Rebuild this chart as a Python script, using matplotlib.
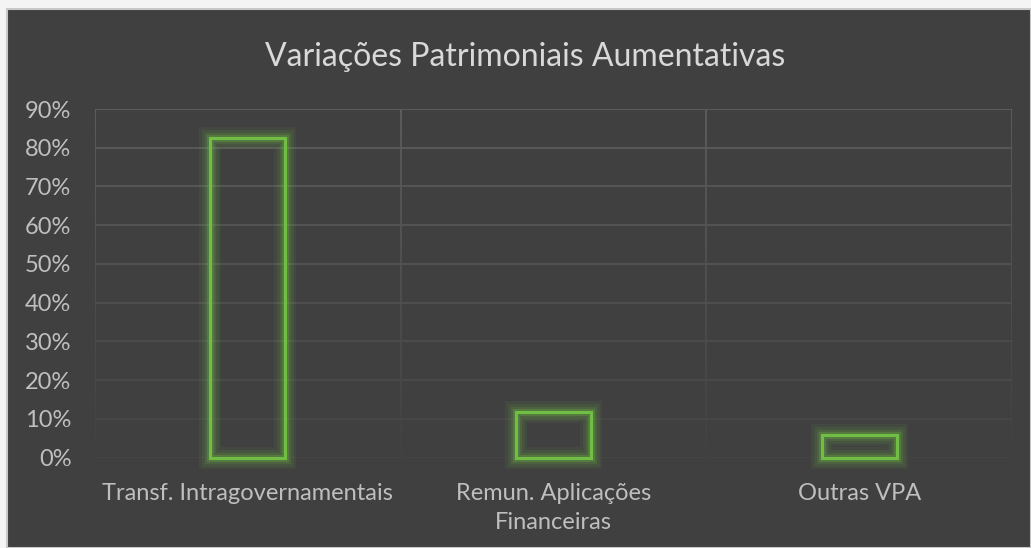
import matplotlib
matplotlib.use("Agg")
import matplotlib.pyplot as plt
import matplotlib.patheffects as pe
from matplotlib.patches import Rectangle
from matplotlib.collections import LineCollection
import numpy as np

categories = ["Transf. Intragovernamentais", "Remun. Aplicações\nFinanceiras", "Outras VPA"]
values = [0.826, 0.118, 0.058]
yticks = [0.0, 0.1, 0.2, 0.3, 0.4, 0.5, 0.6, 0.7, 0.8, 0.9]
title = "Variações Patrimoniais Aumentativas"

BG = "#404040"
GREEN = "#70bf44"
TXT = "#bfbfbf"
plt.rcParams["font.family"] = ["Lato", "DejaVu Sans"]

W, H = 1031, 548
fig = plt.figure(figsize=(W / 100, H / 100), dpi=100, facecolor="#f4f4f4")
# dark chart area with light outer border
fig.patches.append(Rectangle((7 / W, 0), 1 - 7 / W, 1 - 9 / H, transform=fig.transFigure,
                             facecolor=BG, edgecolor="#c8c8c8", linewidth=1.5, zorder=-10))

ax = fig.add_axes([95 / W, 1 - 457.5 / H, (1012 - 95) / W, (457.5 - 109) / H])
ax.set_zorder(5)
ax.set_facecolor(BG)
for s in ax.spines.values():
    s.set_visible(False)
ax.set_xlim(-0.5, len(categories) - 0.5)
ax.set_ylim(0, 0.9)

# fading gridlines (lighter at top, fading toward bottom)
grid_col = np.array(matplotlib.colors.to_rgb("#5e5e5e"))
bg_col = np.array(matplotlib.colors.to_rgb(BG))
for t in yticks:
    f = 0.15 + 0.85 * (t / 0.9)
    c = bg_col + (grid_col - bg_col) * f
    ax.axhline(t, color=c, linewidth=1.3, zorder=1)
n = 60
ys = np.linspace(0, 0.9, n + 1)
for xv in np.arange(-0.5, len(categories), 1.0):
    segs = [[(xv, ys[i]), (xv, ys[i + 1])] for i in range(n)]
    cols = [bg_col + (grid_col - bg_col) * (0.05 + 0.95 * ((ys[i] + ys[i + 1]) / 2 / 0.9)) for i in range(n)]
    ax.add_collection(LineCollection(segs, colors=cols, linewidths=1.3, zorder=1))

x = np.arange(len(categories))
bars = ax.bar(x, values, width=0.245, facecolor="none", edgecolor=GREEN, linewidth=2.2, zorder=3)
glow = [pe.Stroke(linewidth=16, foreground=GREEN, alpha=0.07),
        pe.Stroke(linewidth=12, foreground=GREEN, alpha=0.10),
        pe.Stroke(linewidth=8, foreground=GREEN, alpha=0.15),
        pe.Stroke(linewidth=5, foreground=GREEN, alpha=0.25),
        pe.Normal()]
for b in bars:
    b.set_path_effects(glow)
    b.set_clip_on(False)

ax.set_yticks(yticks)
ax.set_yticklabels([f"{int(round(t * 100))}%" for t in yticks])
ax.set_xticks(x)
ax.set_xticklabels(categories, linespacing=1.5)
ax.tick_params(axis="both", length=0, colors=TXT, labelsize=17)
ax.tick_params(axis="y", pad=17)
ax.tick_params(axis="x", pad=18)
for lab in ax.get_yticklabels():
    lab.set_horizontalalignment("right")

fig.text(525 / W, 1 - 57 / H, title, ha="center", va="center", fontsize=23, color="#d9d9d9")

fig.savefig("out.png", dpi=100, facecolor=fig.get_facecolor())
